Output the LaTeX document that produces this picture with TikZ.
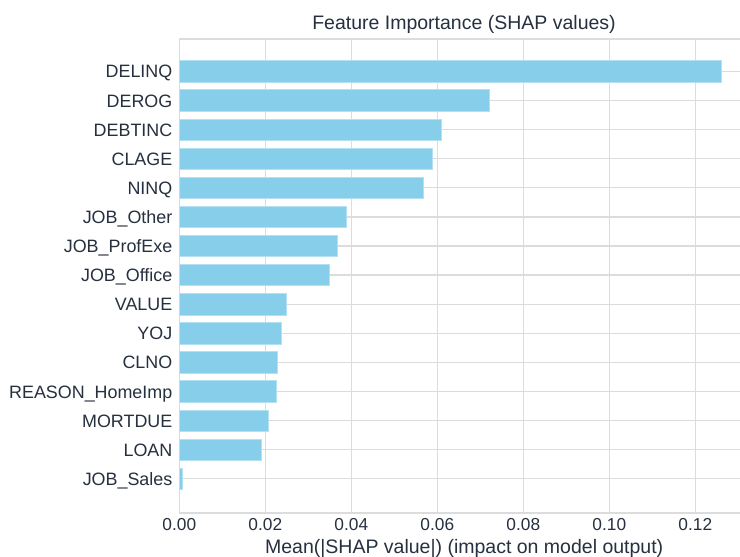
\documentclass[tikz,border=0pt]{standalone}
\usepackage{fontspec}
\setmainfont{Liberation Sans}
\definecolor{barblue}{HTML}{87CEEB}
\definecolor{baredge}{HTML}{B3E0F2}
\definecolor{gridgray}{HTML}{DCDCDC}
\definecolor{txt}{HTML}{26303F}
\tikzset{
  ticklab/.style={font=\fontsize{17.3}{20}\selectfont, text=txt, inner sep=0pt},
  ylab/.style={ticklab, font=\fontsize{17.9}{20}\selectfont, anchor=base east},
  xlab/.style={ticklab, anchor=base},
  bigtext/.style={font=\fontsize{19.5}{23}\selectfont, text=txt, inner sep=0pt, anchor=base},
  gridline/.style={draw=gridgray, line width=1.3pt},
  bar/.style={fill=barblue, draw=baredge, line width=0.7pt}
}
\begin{document}
\begin{tikzpicture}[x=1pt,y=-1pt]
\fill[white] (0,0) rectangle (740,557);
\useasboundingbox (0,0) rectangle (740,557);
% grid
\foreach \i in {1,...,6}
  \draw[gridline] ({179.3+86*\i},39) -- ({179.3+86*\i},513);
\foreach \i in {0,...,14}
  \draw[gridline] (179.3,{71.4+29.1*\i}) -- (740,{71.4+29.1*\i});
% spines
\draw[gridline] (740,39) -- (179.3,39) -- (179.3,513) -- (740,513);
% bars and labels
\foreach \n/\e [count=\k from 0] in {DELINQ/721.7, DEROG/489.3, DEBTINC/441.3, CLAGE/432.3, NINQ/423.7, JOB\_Other/346.3, JOB\_ProfExe/337.7, JOB\_Office/329, VALUE/286, YOJ/281, CLNO/277, REASON\_HomeImp/276, MORTDUE/268.3, LOAN/261.7, JOB\_Sales/182.7}
{
  \path[bar] (179.3,{71.4+29.1*\k-10.7}) rectangle (\e,{71.4+29.1*\k+10.7});
  \node[ylab] (lab\k) at (172.5,{71.4+29.1*\k+6.5}) {\n};
}
% x tick labels
\foreach \v [count=\k from 0] in {0.00,0.02,0.04,0.06,0.08,0.10,0.12}
  \node[xlab] (xt\k) at ({179.3+86*\k},530) {\v};
\node[bigtext] (title) at (464,29) {Feature Importance (SHAP values)};
\node[bigtext] (xlabel) at (464.2,553.5) {Mean(|SHAP value|) (impact on model output)};
\end{tikzpicture}
\end{document}
